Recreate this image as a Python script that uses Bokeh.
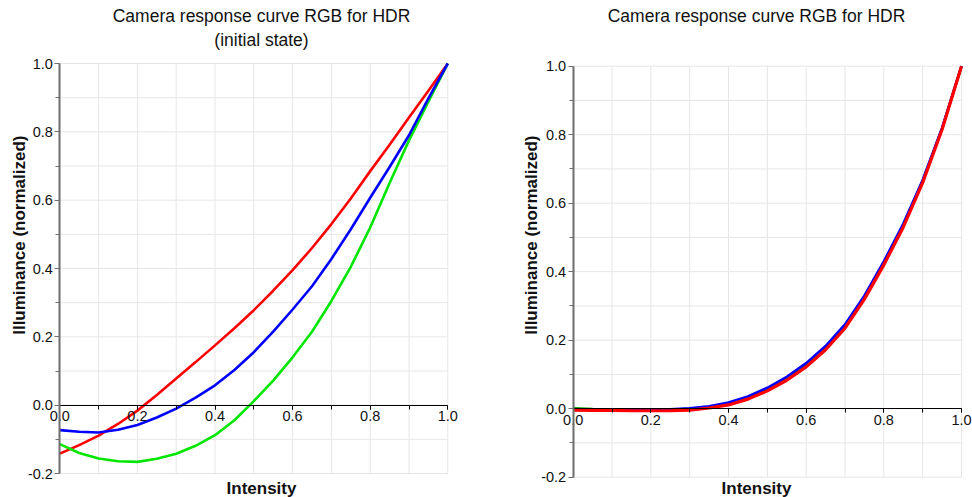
from bokeh.plotting import figure
from bokeh.layouts import row
from bokeh.models import SingleIntervalTicker, Title, Range1d, PrintfTickFormatter, Label
from bokeh.embed import file_html
from bokeh.resources import INLINE

# ---------------- data ----------------
intensity = [0.0, 0.05, 0.1, 0.15, 0.2, 0.25, 0.3, 0.35, 0.4, 0.45, 0.5,
             0.55, 0.6, 0.65, 0.7, 0.75, 0.8, 0.85, 0.9, 0.95, 1.0]

# left panel: initial state
init_red = [-0.142, -0.117, -0.089, -0.055, -0.016, 0.030, 0.078, 0.126, 0.175, 0.225, 0.278,
            0.335, 0.395, 0.460, 0.530, 0.605, 0.685, 0.762, 0.842, 0.920, 1.0]
init_blue = [-0.073, -0.078, -0.080, -0.072, -0.058, -0.036, -0.010, 0.022, 0.058, 0.103, 0.155,
             0.215, 0.280, 0.348, 0.428, 0.515, 0.607, 0.697, 0.790, 0.898, 1.0]
init_green = [-0.114, -0.140, -0.156, -0.164, -0.166, -0.157, -0.142, -0.119, -0.088, -0.044, 0.012,
              0.072, 0.140, 0.215, 0.305, 0.405, 0.520, 0.650, 0.775, 0.888, 1.0]

# right panel: recovered response
final_green = [0.001, -0.001, -0.002, -0.003, -0.003, -0.003, 0.000, 0.005, 0.015, 0.033, 0.058,
               0.090, 0.130, 0.180, 0.242, 0.326, 0.426, 0.536, 0.665, 0.818, 1.0]
final_blue = [-0.002, -0.003, -0.003, -0.003, -0.003, -0.002, 0.001, 0.007, 0.018, 0.036, 0.061,
              0.093, 0.133, 0.183, 0.246, 0.330, 0.430, 0.540, 0.668, 0.820, 1.0]
final_red = [-0.004, -0.005, -0.005, -0.006, -0.006, -0.006, -0.004, 0.002, 0.011, 0.028, 0.052,
             0.083, 0.122, 0.172, 0.235, 0.320, 0.420, 0.530, 0.660, 0.815, 1.0]

title_main = "Camera response curve RGB for HDR"
title_sub_left = "(initial state)"
title_sub_right = " "
x_label = "Intensity"
y_label = "Illuminance (normalized)"

X_MIN, X_MAX = 0.0, 1.0
Y_MIN, Y_MAX = -0.2, 1.0

FONT = "Liberation Sans"
GRID = "#e6e6e6"
YAX = "#6f6f6f"
H = 497


def make_fig(width, frame_l, frame_r, frame_t, x0_px, x1_px, y1_px, ym_px,
             sub_text, xlabel_px, ylabel_top_px):
    # data->pixel mapping wanted: x=0 -> x0_px, x=1 -> x1_px, y=1 -> y1_px, y=-0.2 -> ym_px
    frame_b = H
    sx = (x1_px - x0_px) / (X_MAX - X_MIN)
    sy = (ym_px - y1_px) / (Y_MAX - Y_MIN)
    xr = Range1d(X_MIN - (x0_px - frame_l) / sx, X_MAX + (frame_r - x1_px) / sx)
    yr = Range1d(Y_MIN - (frame_b - ym_px) / sy, Y_MAX + (y1_px - frame_t) / sy)
    p = figure(width=width, height=H, output_backend="svg", toolbar_location=None,
               x_range=xr, y_range=yr,
               min_border_left=frame_l, min_border_right=width - frame_r,
               min_border_top=frame_t, min_border_bottom=0,
               background_fill_color="white", border_fill_color="white")
    p.outline_line_color = None
    p.xgrid.visible = False
    p.ygrid.visible = False

    # light grid every 0.1 inside the data box
    gx = [X_MIN + i * 0.1 for i in range(11)]
    gy = [Y_MIN + i * 0.1 for i in range(13)]
    p.segment(x0=gx, y0=[Y_MIN] * len(gx), x1=gx, y1=[Y_MAX] * len(gx),
              line_color=GRID, line_width=1)
    p.segment(x0=[X_MIN] * len(gy), y0=gy, x1=[X_MAX] * len(gy), y1=gy,
              line_color=GRID, line_width=1)

    # x axis crossing at y = 0
    xa = p.xaxis[0]
    xa.fixed_location = 0
    xa.bounds = (X_MIN, X_MAX)
    xa.ticker = SingleIntervalTicker(interval=0.2, num_minor_ticks=2)
    xa.formatter = PrintfTickFormatter(format="%.1f")
    xa.axis_line_color = "black"
    xa.axis_line_width = 1
    xa.major_tick_line_color = "black"
    xa.minor_tick_line_color = "black"
    xa.major_tick_in = 0
    xa.major_tick_out = 4
    xa.minor_tick_in = 0
    xa.minor_tick_out = 4
    xa.major_label_standoff = 2
    xa.major_label_text_font = FONT
    xa.major_label_text_font_size = "14.5px"
    xa.major_label_text_color = "#111111"

    # y axis at x = 0
    ya = p.yaxis[0]
    ya.fixed_location = 0
    ya.bounds = (Y_MIN, Y_MAX)
    ya.ticker = SingleIntervalTicker(interval=0.2, num_minor_ticks=2)
    ya.formatter = PrintfTickFormatter(format="%.1f")
    ya.axis_line_color = YAX
    ya.axis_line_width = 2
    ya.major_tick_line_color = YAX
    ya.minor_tick_line_color = YAX
    ya.major_tick_in = 0
    ya.major_tick_out = 5
    ya.minor_tick_in = 0
    ya.minor_tick_out = 4
    ya.major_label_standoff = 2
    ya.major_label_text_font = FONT
    ya.major_label_text_font_size = "14.5px"
    ya.major_label_text_color = "#111111"

    sub = Title(text=sub_text, align="center", text_font=FONT, text_font_size="17.5px",
                text_font_style="normal", text_color="#111111", standoff=5,
                text_line_height=0.9)
    p.add_layout(sub, "above")
    main = Title(text=title_main, align="center", text_font=FONT, text_font_size="17.5px",
                 text_font_style="normal", text_color="#111111", standoff=0,
                 text_line_height=0.9)
    p.add_layout(main, "above")

    yl = Title(text=y_label, align="right", text_font=FONT, text_font_size="17px",
               text_font_style="bold", text_color="#111111", standoff=0,
               offset=ylabel_top_px - frame_t, text_line_height=0.9)
    p.add_layout(yl, "left")

    # x-axis name under the plot box
    lx = X_MIN + (xlabel_px - x0_px) / sx
    ly = Y_MIN - (488 - ym_px) / sy
    p.add_layout(Label(x=lx, y=ly, text=x_label, text_align="center", text_baseline="middle",
                       text_font=FONT, text_font_size="17px", text_font_style="bold",
                       text_color="#111111"))
    return p


# left: figure 0..512, title centre at 261 -> frame 28..494
p1 = make_fig(512, 28, 494, 52, 59.3, 447.3, 63.0, 473.0, title_sub_left, 261, 135)
p1.line(intensity, init_red, line_color="#ff0000", line_width=2.6)
p1.line(intensity, init_green, line_color="#00e600", line_width=2.6)
p1.line(intensity, init_blue, line_color="#0000ff", line_width=2.6)

# right: figure 512..972, title centre near 756 -> frame 28..460 (local)
p2 = make_fig(460, 28, 460, 52, 60.7, 449.0, 65.7, 476.7, title_sub_right, 244, 135)
p2.line(intensity, final_green, line_color="#00a000", line_width=2.6)
p2.line(intensity, final_blue, line_color="#0000ff", line_width=2.6)
p2.line(intensity, final_red, line_color="#ff0000", line_width=3.2)

layout = row(p1, p2)
open("out.html", "w").write(file_html(layout, INLINE))
